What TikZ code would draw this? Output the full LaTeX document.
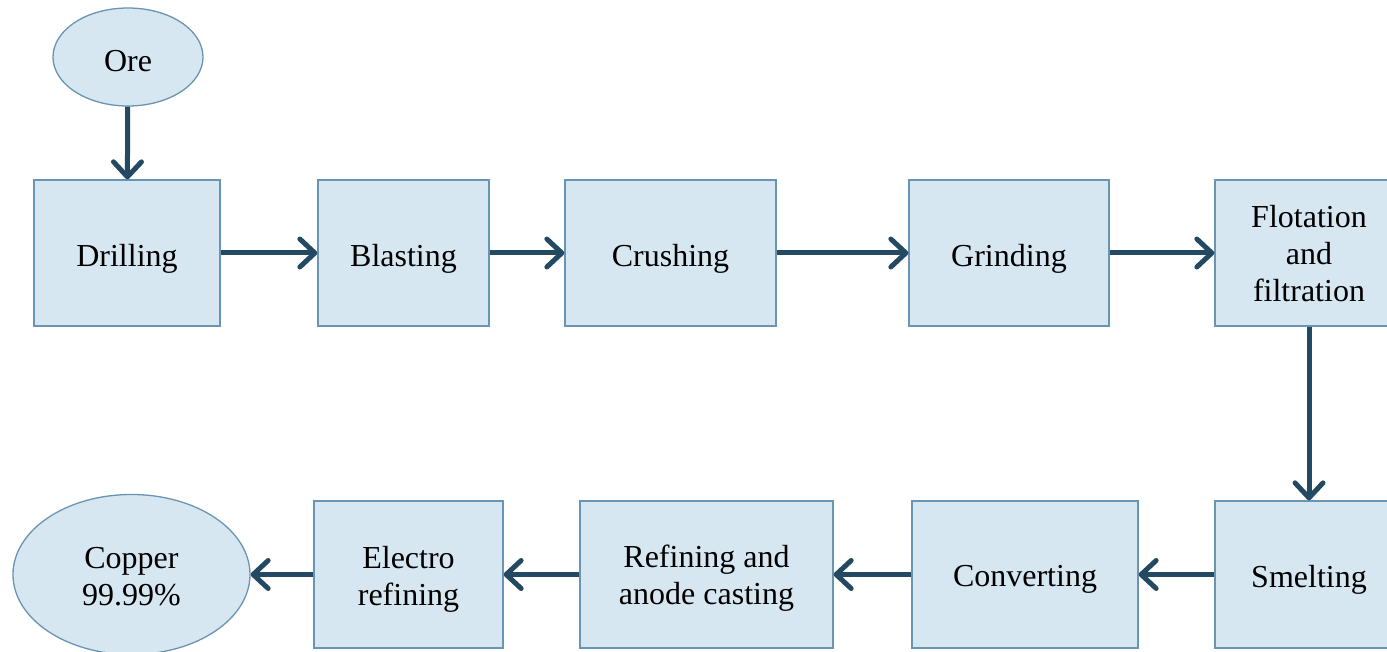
\documentclass[tikz,border=0pt]{standalone}
\usepackage{fontspec}
\setmainfont{Liberation Serif}
\usetikzlibrary{arrows.meta,shapes.geometric}
\definecolor{boxfill}{HTML}{D7E7F1}
\definecolor{boxline}{HTML}{6A95B2}
\definecolor{arrowc}{HTML}{234A62}
% #1 = twice the offset of the last baseline below the centre; #2 = lines separated by \cr
\newcommand\boxtext[2]{\raisebox{0pt}[#1][0pt]{\vbox{\baselineskip=37pt\lineskiplimit=-100pt\lineskip=0pt
  \halign{\hfil##\hfil\cr#2\crcr}}}}
\tikzset{
  stepbox/.style={draw=boxline,fill=boxfill,line width=1.3pt,inner sep=0pt,
    font=\fontsize{32}{37}\selectfont},
  endpoint/.style={ellipse,draw=boxline,fill=boxfill,line width=1.3pt,inner sep=0pt,
    font=\fontsize{32}{37}\selectfont},
  flow/.style={draw=arrowc,line width=5pt,-{Straight Barb[length=15pt,width=28pt,line width=5pt,round]}}
}
\begin{document}
\begin{tikzpicture}[x=1pt,y=-1pt]
\useasboundingbox (0,0) rectangle (1387,652);
\clip (0,0) rectangle (1387,652);
\node[endpoint,minimum width=150pt,minimum height=98pt] (ore) at (128,57) {\boxtext{29pt}{Ore}};
\node[stepbox,minimum width=186pt,minimum height=146pt] (drill) at (127,253) {\boxtext{27pt}{Drilling}};
\node[stepbox,minimum width=171pt,minimum height=146pt] (blast) at (403.5,253) {\boxtext{27pt}{Blasting}};
\node[stepbox,minimum width=211pt,minimum height=146pt] (crush) at (670.5,253) {\boxtext{27pt}{Crushing}};
\node[stepbox,minimum width=200pt,minimum height=146pt] (grind) at (1009,253) {\boxtext{27pt}{Grinding}};
\node[stepbox,minimum width=188pt,minimum height=146pt] (flot) at (1309,253) {\boxtext{98pt}{Flotation\cr and\cr filtration}};
\node[stepbox,minimum width=188pt,minimum height=147pt] (smelt) at (1309,574.5) {\boxtext{26pt}{Smelting}};
\node[stepbox,minimum width=226pt,minimum height=147pt] (conv) at (1025,574.5) {\boxtext{24pt}{Converting}};
\node[stepbox,minimum width=253pt,minimum height=147pt] (refin) at (706.5,574.5) {\boxtext{60pt}{Refining and\cr anode casting}};
\node[stepbox,minimum width=189pt,minimum height=147pt] (elec) at (408.5,574.5) {\boxtext{62pt}{Electro\cr refining}};
\node[endpoint,minimum width=237pt,minimum height=160pt] (cu) at (131.5,574.5) {\boxtext{62pt}{Copper\cr 99.99\%}};
\draw[flow] (ore) -- (drill);
\draw[flow] (drill) -- (blast);
\draw[flow] (blast) -- (crush);
\draw[flow] (crush) -- (grind);
\draw[flow] (grind) -- (flot);
\draw[flow] (flot) -- (smelt);
\draw[flow] (smelt) -- (conv);
\draw[flow] (conv) -- (refin);
\draw[flow] (refin) -- (elec);
\draw[flow] (elec) -- (cu);
\end{tikzpicture}
\end{document}
